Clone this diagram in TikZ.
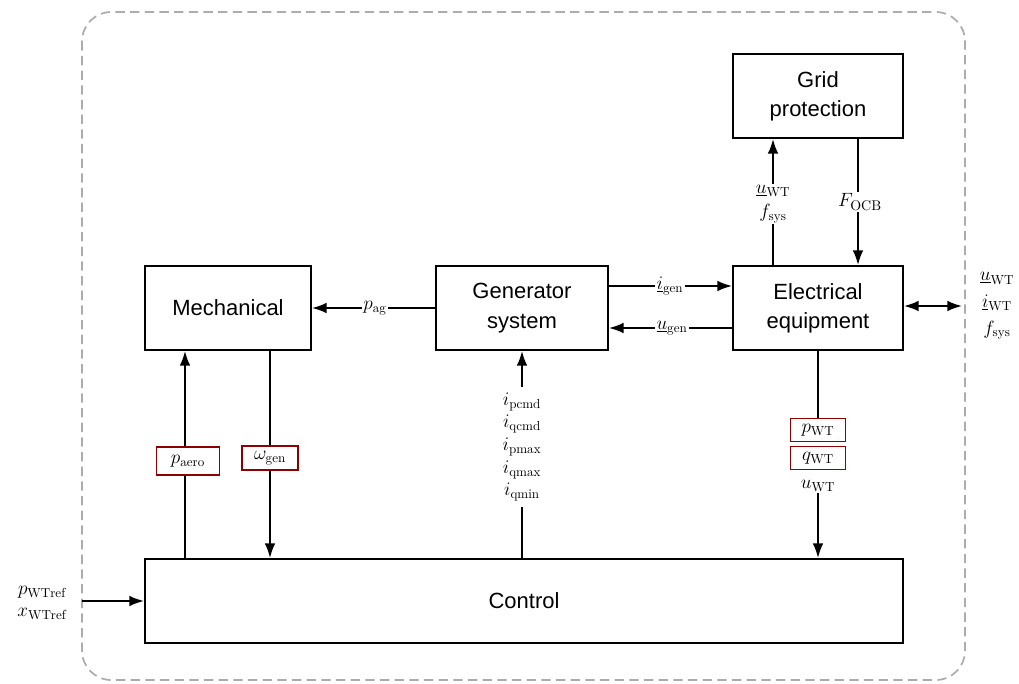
\documentclass[tikz,border=0pt]{standalone}
\usepackage{fontspec}
\setsansfont{Liberation Sans}
\usetikzlibrary{arrows.meta}
\begin{document}
\begin{tikzpicture}[x=0.75pt,y=-0.75pt,
  blk/.style={draw,line width=1.4pt,font=\sffamily\fontsize{16.5}{22}\selectfont,align=center,inner sep=0pt,minimum height=63pt},
  lbl/.style={font=\fontsize{14}{17}\selectfont,fill=white,inner sep=1pt,align=center},
  redbox/.style={draw=red!55!black,line width=0.9pt,font=\fontsize{14}{17}\selectfont,fill=white,inner sep=1.5pt},
  conn/.style={line width=1.5pt},
  arr/.style={conn,-{Latex[length=11pt,width=8pt]}},
  darr/.style={conn,{Latex[length=11pt,width=8pt]}-{Latex[length=11pt,width=8pt]}}]
\useasboundingbox (0,0) rectangle (1019,684);
% dashed frame
\draw[gray!65,dash pattern=on 7pt off 4pt,line width=1.3pt,rounded corners=22pt] (82,12) rectangle (965,680);
% blocks
\node[blk,minimum width=127.5pt] (grid) at (818,96) {Grid\\protection};
\node[blk,minimum width=124.5pt] (mech) at (228,308) {Mechanical};
\node[blk,minimum width=129pt] (gen) at (522,308) {Generator\\system};
\node[blk,minimum width=127.5pt] (elec) at (818,308) {Electrical\\equipment};
\node[blk,minimum width=568.5pt] (ctrl) at (524,601) {Control};
% generator -> mechanical
\draw[arr] (gen.west) -- (mech.east);
\node[lbl] (pag) at (375,308) {$p_{\mathrm{ag}}$};
% generator <-> electrical
\draw[arr] (gen.east |- 0,286) -- (elec.west |- 0,286);
\node[lbl] (igen) at (670,286) {$\underline{i}_{\mathrm{gen}}$};
\draw[arr] (elec.west |- 0,328) -- (gen.east |- 0,328);
\node[lbl] (ugen) at (672,328) {$\underline{u}_{\mathrm{gen}}$};
% electrical <-> grid protection
\draw[arr] (773,0 |- elec.north) -- (773,0 |- grid.south);
\node[lbl] (uwtg) at (773,204) {$\underline{u}_{\mathrm{WT}}$\\[1pt]$f_{\mathrm{sys}}$};
\draw[arr] (858,0 |- grid.south) -- (858,0 |- elec.north);
\node[lbl,font=\fontsize{15}{17}\selectfont] (focb) at (860,202) {$F_{\mathrm{OCB}}$};
% electrical <-> outside
\coordinate (ext) at (962,306);
\draw[darr] (elec.east |- ext) -- (ext);
\node[font=\fontsize{14}{17}\selectfont,align=center,inner sep=0pt] (extl) at (997,306) {$\underline{u}_{\mathrm{WT}}$\\[3pt]$\underline{i}_{\mathrm{WT}}$\\[3pt]$f_{\mathrm{sys}}$};
% control -> mechanical
\draw[arr] (185,0 |- ctrl.north) -- (185,0 |- mech.south);
\node[redbox,minimum width=47pt,minimum height=21pt] (paero) at (188,461) {$p_{\mathrm{aero}}$};
% mechanical -> control
\draw[arr] (270,0 |- mech.south) -- (270,0 |- ctrl.north);
\node[redbox,minimum width=42pt,minimum height=18pt] (omg) at (270,458) {$\omega_{\mathrm{gen}}$};
% control -> generator
\draw[arr] (gen.south |- ctrl.north) -- (gen.south);
\node[lbl,inner ysep=4pt] (icmd) at (522,447) {$i_{\mathrm{pcmd}}$\\[0pt]$i_{\mathrm{qcmd}}$\\[0pt]$i_{\mathrm{pmax}}$\\[0pt]$i_{\mathrm{qmax}}$\\[0pt]$i_{\mathrm{qmin}}$};
% electrical -> control
\node[redbox,minimum width=41pt,minimum height=17pt] (pwt) at (818,430) {$p_{\mathrm{WT}}$};
\node[redbox,minimum width=41pt,minimum height=17pt] (qwt) at (818,458) {$q_{\mathrm{WT}}$};
\node[lbl] (uwtc) at (818,486) {$u_{\mathrm{WT}}$};
\draw[conn] (elec.south) -- (pwt.north);
\draw[arr] (uwtc.south) -- (uwtc.south |- ctrl.north);
% input to control
\coordinate (inp) at (82,601);
\draw[arr] (inp) -- (ctrl.west |- inp);
\node[font=\fontsize{14}{17}\selectfont,align=center,inner sep=0pt] (inl) at (42,603) {$p_{\mathrm{WTref}}$\\[0pt]$x_{\mathrm{WTref}}$};
\end{tikzpicture}
\end{document}
